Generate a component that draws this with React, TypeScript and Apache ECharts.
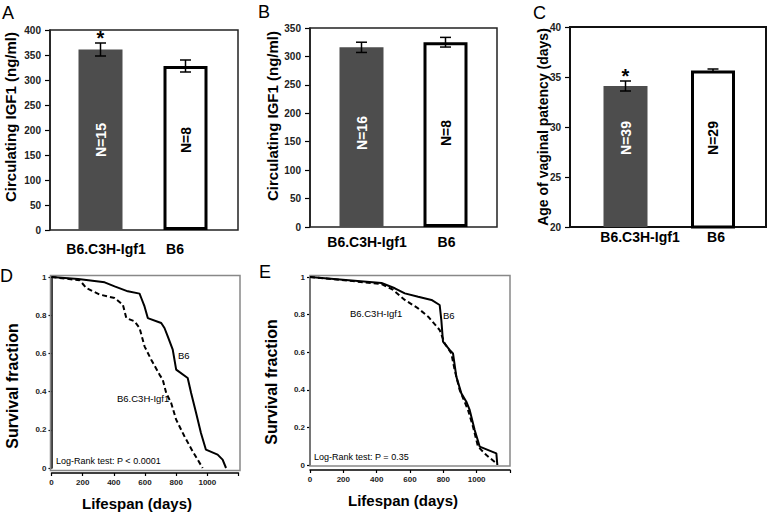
import React, { useEffect, useRef } from "react";
import * as echarts from "echarts";

const FONT = '"Liberation Sans", Arial, sans-serif';

// ---- Data ----
const categories = ["B6.C3H-Igf1", "B6"];

const igfA = [361, 328];
const igfAErr = [13, 12];
const nA = ["N=15", "N=8"];
const starA = ["*", ""];

const igfB = [316, 325];
const igfBErr = [9, 8.5];
const nB = ["N=16", "N=8"];
const starB = ["", ""];

const vpC = [34.1, 35.65];
const vpCErr = [0.5, 0.15];
const nC = ["N=39", "N=29"];
const starC = ["*", ""];

// survival curves [lifespan days, survival fraction]
const dB6 = [[0, 1], [171, 0.99], [341, 0.972], [405, 0.951], [490, 0.925], [565, 0.913], [576, 0.89], [597, 0.846], [618, 0.785], [704, 0.759], [725, 0.733], [746, 0.689], [778, 0.62], [800, 0.515], [874, 0.471], [896, 0.393], [928, 0.288], [959, 0.183], [991, 0.096], [1066, 0.07], [1098, 0.044], [1120, 0]];
const dIgf = [[0, 1], [181, 0.983], [224, 0.942], [309, 0.908], [405, 0.89], [458, 0.855], [480, 0.785], [533, 0.768], [565, 0.733], [597, 0.637], [640, 0.567], [693, 0.489], [714, 0.462], [736, 0.393], [768, 0.34], [800, 0.253], [853, 0.166], [906, 0.087], [970, 0]];
const eB6 = [[0, 1], [429, 0.968], [509, 0.94], [569, 0.913], [649, 0.895], [729, 0.878], [778, 0.851], [788, 0.771], [798, 0.656], [838, 0.612], [858, 0.594], [878, 0.47], [908, 0.381], [938, 0.337], [958, 0.293], [988, 0.186], [1018, 0.098], [1118, 0.062], [1124, 0]];
const eIgf = [[0, 1], [429, 0.963], [499, 0.931], [569, 0.878], [649, 0.833], [709, 0.789], [778, 0.718], [808, 0.647], [848, 0.594], [868, 0.505], [898, 0.399], [948, 0.293], [978, 0.204], [1008, 0.098], [1058, 0.053], [1118, 0.009]];

const darkStyle = { color: "#4d4d4d" };
const whiteStyle = { color: "#ffffff", borderColor: "#000", borderWidth: 3 };

function barSeries(idx: number, values: number[]) {
  return {
    type: "bar",
    xAxisIndex: idx,
    yAxisIndex: idx,
    barWidth: 44,
    clip: true,
    data: values.map((v, i) => ({ value: v, itemStyle: i === 0 ? darkStyle : whiteStyle })),
  };
}

function errSeries(idx: number, values: number[], errs: number[], stars: string[], ns: string[], labelY: number) {
  return {
    type: "custom",
    xAxisIndex: idx,
    yAxisIndex: idx,
    z: 5,
    data: values.map((v, i) => [i, v, errs[i]]),
    renderItem: (params: any, api: any) => {
      const i = api.value(0);
      const m = api.value(1);
      const e = api.value(2);
      const top = api.coord([i, m + e]);
      const bot = api.coord([i, m - e]);
      const cx = top[0];
      const hw = 5.5;
      const children: any[] = [
        { type: "line", shape: { x1: cx, y1: top[1], x2: cx, y2: bot[1] }, style: { stroke: "#000", lineWidth: 1.5 } },
        { type: "line", shape: { x1: cx - hw, y1: top[1], x2: cx + hw, y2: top[1] }, style: { stroke: "#000", lineWidth: 1.5 } },
        { type: "line", shape: { x1: cx - hw, y1: bot[1], x2: cx + hw, y2: bot[1] }, style: { stroke: "#000", lineWidth: 1.5 } },
        {
          type: "text",
          x: cx,
          y: labelY,
          rotation: Math.PI / 2,
          style: { text: ns[i], fill: i === 0 ? "#fff" : "#000", font: `bold 14px ${FONT}`, align: "center", verticalAlign: "middle" },
        },
      ];
      if (stars[i]) {
        children.push({
          type: "text",
          x: cx,
          y: top[1] - 5,
          style: { text: stars[i], fill: "#000", font: `bold 20px ${FONT}`, align: "center", verticalAlign: "middle" },
        });
      }
      return { type: "group", children };
    },
  };
}

function catAxis(idx: number, margin: number, shifts: number[]) {
  const rich: any = {};
  shifts.forEach((s, k) => {
    rich["c" + k] = {
      fontSize: 14,
      fontWeight: "bold",
      fontFamily: FONT,
      color: "#000",
      padding: s >= 0 ? [0, 0, 0, 2 * s] : [0, -2 * s, 0, 0],
    };
  });
  return {
    type: "category",
    gridIndex: idx,
    data: categories,
    axisLine: { show: false },
    axisTick: { show: false },
    axisLabel: {
      margin,
      interval: 0,
      formatter: (v: string, k: number) => `{c${k}|${v}}`,
      rich,
    },
  };
}

function barYAxis(idx: number, min: number, max: number, interval: number, offset: number) {
  return {
    type: "value",
    gridIndex: idx,
    min,
    max,
    interval,
    offset,
    splitLine: { show: false },
    axisLine: { show: true, lineStyle: { color: "#000", width: 1.5 } },
    axisTick: { show: true, length: 5, lineStyle: { color: "#000", width: 1.2 } },
    axisLabel: { margin: 9, fontSize: 10, fontWeight: "bold", fontFamily: FONT, color: "#222" },
  };
}

function survXAxis(idx: number) {
  return {
    type: "value",
    gridIndex: idx,
    min: 0,
    max: 1200,
    interval: 200,
    offset: 5,
    splitLine: { show: false },
    axisLine: { show: true, onZero: false, lineStyle: { color: "#000", width: 1.5 } },
    axisTick: { show: true, length: 3, lineStyle: { color: "#000", width: 1.2 } },
    axisLabel: {
      margin: 5,
      fontSize: 8,
      fontWeight: "bold",
      fontFamily: FONT,
      color: "#222",
      formatter: (v: number) => (v === 1200 ? "" : String(v)),
    },
  };
}

function survYAxis(idx: number) {
  return {
    type: "value",
    gridIndex: idx,
    min: 0,
    max: 1,
    interval: 0.2,
    splitLine: { show: false },
    axisLine: { show: true, lineStyle: { color: "#000", width: 1.5 } },
    axisTick: { show: true, length: 3, lineStyle: { color: "#000", width: 1.2 } },
    axisLabel: { margin: 5, fontSize: 8, fontWeight: "bold", fontFamily: FONT, color: "#222" },
  };
}

function lineSeries(idx: number, data: number[][], dashed: boolean) {
  return {
    type: "line",
    xAxisIndex: idx,
    yAxisIndex: idx,
    data,
    symbol: "none",
    showSymbol: false,
    lineStyle: { color: "#000", width: 2, type: dashed ? [5, 3] : "solid" },
  };
}

function txt(x: number, y: number, text: string, font: string, opts: any = {}) {
  return {
    type: "text",
    x,
    y,
    rotation: opts.rotation || 0,
    silent: true,
    style: {
      text,
      font,
      fill: opts.fill || "#000",
      align: opts.align || "left",
      verticalAlign: "middle",
    },
  };
}

function box(x: number, y: number, w: number, h: number, stroke: string, lw: number) {
  return {
    type: "rect",
    shape: { x, y, width: w, height: h },
    silent: true,
    z: 1,
    style: { fill: "none", stroke, lineWidth: lw },
  };
}

export default function App() {
  const ref = useRef<HTMLDivElement>(null);
  useEffect(() => {
    if (!ref.current) return;
    const chart = echarts.init(ref.current, null, { renderer: "svg" });
    const option: any = {
      animation: false,
      backgroundColor: "#fff",
      grid: [
        { left: 58, top: 30, width: 170, height: 200 },
        { left: 319.5, top: 28, width: 168, height: 199 },
        { left: 581.75, top: 27, width: 175, height: 200 },
        { left: 51.5, top: 277, width: 187, height: 191 },
        { left: 310, top: 277, width: 200, height: 188 },
      ],
      xAxis: [
        catAxis(0, 12, [5.5, -10.5]),
        catAxis(1, 8, [5.5, 1]),
        catAxis(2, 3, [14.5, 3]),
        survXAxis(3),
        survXAxis(4),
      ],
      yAxis: [
        barYAxis(0, 0, 400, 50, 8),
        barYAxis(1, 0, 350, 50, 9.5),
        barYAxis(2, 20, 40, 5, 11.75),
        survYAxis(3),
        survYAxis(4),
      ],
      series: [
        barSeries(0, igfA),
        barSeries(1, igfB),
        barSeries(2, vpC),
        errSeries(0, igfA, igfAErr, starA, nA, 140),
        errSeries(1, igfB, igfBErr, starB, nB, 133),
        errSeries(2, vpC, vpCErr, starC, nC, 138),
        lineSeries(3, dB6, false),
        lineSeries(3, dIgf, true),
        lineSeries(4, eB6, false),
        lineSeries(4, eIgf, true),
      ],
      graphic: [
        box(50, 30, 188, 200, "#222", 1.5),
        box(310, 28, 187, 199, "#222", 1.5),
        box(570, 27, 196, 200, "#111", 2),
        box(50.5, 275.5, 189.5, 195, "#888", 1.5),
        box(310, 275.5, 200, 190.5, "#888", 1.5),
        // panel letters
        txt(2, 13, "A", `18px ${FONT}`),
        txt(258, 12, "B", `18px ${FONT}`),
        txt(533, 13, "C", `18px ${FONT}`),
        txt(0, 276, "D", `18px ${FONT}`),
        txt(259, 272, "E", `18px ${FONT}`),
        // axis titles
        txt(10, 117, "Circulating IGF1 (ng/ml)", `bold 15px ${FONT}`, { rotation: Math.PI / 2, align: "center" }),
        txt(272, 116, "Circulating IGF1 (ng/ml)", `bold 15px ${FONT}`, { rotation: Math.PI / 2, align: "center" }),
        txt(543, 127, "Age of vaginal patency (days)", `bold 14px ${FONT}`, { rotation: Math.PI / 2, align: "center" }),
        txt(12, 386, "Survival fraction", `bold 16px ${FONT}`, { rotation: Math.PI / 2, align: "center" }),
        txt(271, 382, "Survival fraction", `bold 16px ${FONT}`, { rotation: Math.PI / 2, align: "center" }),
        txt(137, 503, "Lifespan (days)", `bold 15px ${FONT}`, { align: "center" }),
        txt(403, 500, "Lifespan (days)", `bold 15px ${FONT}`, { align: "center" }),
        // annotations
        txt(56, 461, "Log-Rank test: P < 0.0001", `9px ${FONT}`),
        txt(178, 355, "B6", `9.5px ${FONT}`),
        txt(117, 398, "B6.C3H-Igf1", `9.5px ${FONT}`),
        txt(314, 457, "Log-Rank test: P = 0.35", `9px ${FONT}`),
        txt(350, 313, "B6.C3H-Igf1", `9.5px ${FONT}`),
        txt(443, 315, "B6", `9.5px ${FONT}`),
      ],
    };
    chart.setOption(option);
    return () => chart.dispose();
  }, []);
  return (
    <div
      ref={ref}
      style={{ position: "absolute", left: 0, top: 0, width: 769, height: 512, background: "#fff" }}
    />
  );
}
